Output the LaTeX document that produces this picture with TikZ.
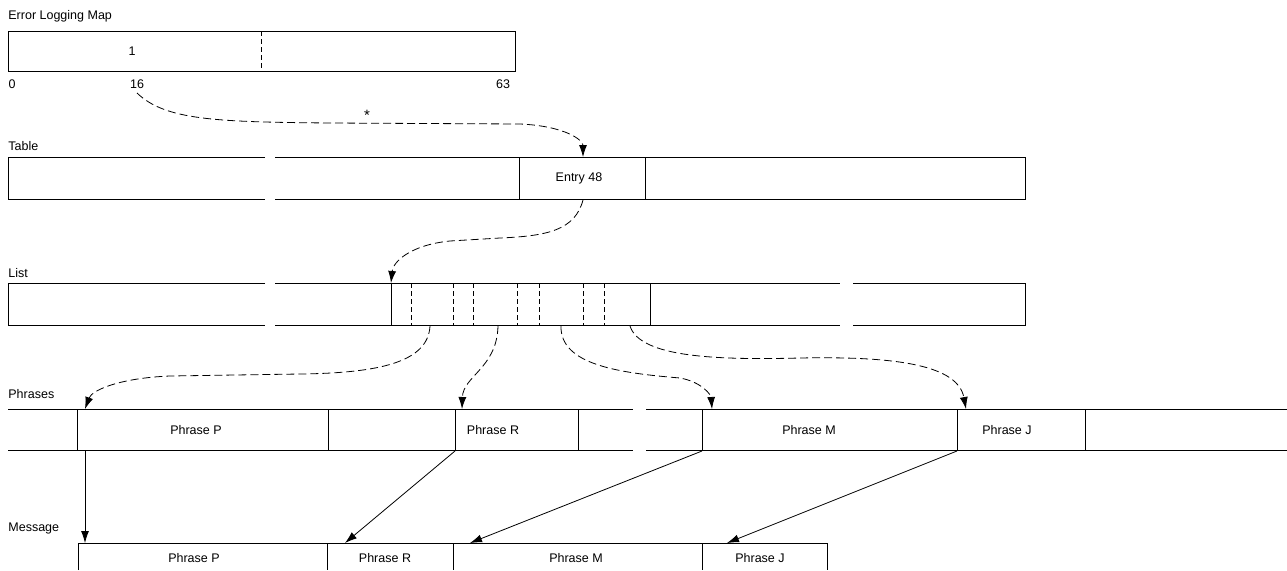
\documentclass[tikz,border=0pt]{standalone}
\usepackage{fontspec}
\setmainfont{Liberation Sans}
\usetikzlibrary{arrows.meta}
\begin{document}
\begin{tikzpicture}[x=1pt,y=-1pt,line width=0.8pt,
  txt/.style={font=\fontsize{12.5}{14}\selectfont,inner sep=0pt},
  lbl/.style={txt,anchor=base west},
  dashline/.style={dash pattern=on 8pt off 4pt},
  vdash/.style={dash pattern=on 5pt off 3pt},
  arrowed/.style={-{Latex[length=12pt,width=8pt]}}]
\useasboundingbox (0,0) rectangle (1287,570);

% ---------- Error Logging Map ----------
\node[lbl] (lelm) at (8,19) {Error Logging Map};
\draw (8,31) rectangle (515,71);
\draw[vdash] (261,31) -- (261,71);
\node[txt] (one) at (132,51) {1};
\node[txt,anchor=base] (n0) at (12,88) {0};
\node[txt,anchor=base] (n16) at (137,88) {16};
\node[txt,anchor=base] (n63) at (503,88) {63};

% ---------- Table ----------
\node[lbl] (ltab) at (8,150) {Table};
\draw (265,157) -- (8,157) -- (8,199) -- (265,199);
\draw (275,157) -- (1025,157) -- (1025,199) -- (275,199);
\draw (519,157) -- (519,199);
\draw (645,157) -- (645,199);
\node[txt] (entry) at (579,178) {Entry 48};

% ---------- List ----------
\node[lbl] (llist) at (8,277) {List};
\draw (265,283) -- (8,283) -- (8,325) -- (265,325);
\draw (275,283) -- (840,283);
\draw (275,325) -- (840,325);
\draw (853,283) -- (1025,283) -- (1025,325) -- (853,325);
\draw (391,283) -- (391,325);
\draw (650,283) -- (650,325);
\foreach \x in {411,453,473,517,539,583,604}
  \draw[vdash] (\x,283) -- (\x,325);

% ---------- Phrases ----------
\node[lbl] (lphr) at (8,398) {Phrases};
\draw (8,409) -- (633,409);
\draw (8,450) -- (633,450);
\draw (646,409) -- (1287,409);
\draw (646,450) -- (1287,450);
\foreach \x in {77,328,455,578,702,957,1085}
  \draw (\x,409) -- (\x,450);
\node[txt] (pp) at (196,430) {Phrase P};
\node[txt] (pr) at (493,430) {Phrase R};
\node[txt] (pm) at (809,430) {Phrase M};
\node[txt] (pj) at (1007,430) {Phrase J};

% ---------- Message ----------
\node[lbl] (lmsg) at (8,531) {Message};
\draw (78,570) -- (78,543) -- (827,543) -- (827,570);
\foreach \x in {327,453,702}
  \draw (\x,543) -- (\x,570);
\node[txt] (mp) at (194,558) {Phrase P};
\node[txt] (mr) at (385,558) {Phrase R};
\node[txt] (mm) at (576,558) {Phrase M};
\node[txt] (mj) at (760,558) {Phrase J};

% ---------- connector end points ----------
\coordinate (s16) at (137,93);
\coordinate (tEntry) at (583,157);
\coordinate (sEntry) at (583,200);
\coordinate (tList) at (391,283);
\coordinate (sA) at (430,326);
\coordinate (sB) at (498,326);
\coordinate (sC) at (561,326);
\coordinate (sD) at (630,326);
\coordinate (tP) at (85,409);
\coordinate (tR) at (462,409);
\coordinate (tM) at (712,409);
\coordinate (tJ) at (966,409);
\coordinate (bP) at (85,451);
\coordinate (bR) at (455,451);
\coordinate (bM) at (702,451);
\coordinate (bJ) at (957,451);
\coordinate (mP) at (85,543);
\coordinate (mR) at (345,543);
\coordinate (mM) at (470,543);
\coordinate (mJ) at (727,543);

% ---------- dashed connectors ----------
\draw[dashline,arrowed] (s16) .. controls (165,120) and (215,122) .. (330,123)
   -- (520,124) .. controls (565,126) and (583,140) .. (tEntry);
\node[font=\fontsize{15}{16}\selectfont,inner sep=0pt] (star) at (367,115) {*};
\draw[dashline,arrowed] (sEntry) .. controls (575,230) and (548,236) .. (500,238)
   -- (450,241) .. controls (410,245) and (393,262) .. (tList);
\draw[dashline,arrowed] (sA) .. controls (428,362) and (380,373) .. (300,374)
   -- (170,376) .. controls (120,378) and (92,390) .. (tP);
\draw[dashline,arrowed] (sB) .. controls (497,368) and (463,376) .. (tR);
\draw[dashline,arrowed] (sC) .. controls (560,365) and (620,373) .. (680,378)
   .. controls (702,382) and (711,395) .. (tM);
\draw[dashline,arrowed] (sD) .. controls (640,358) and (720,360) .. (800,358)
   .. controls (900,356) and (958,366) .. (tJ);

% ---------- solid connectors ----------
\draw[arrowed] (bP) -- (mP);
\draw[arrowed] (bR) -- (mR);
\draw[arrowed] (bM) -- (mM);
\draw[arrowed] (bJ) -- (mJ);
\end{tikzpicture}
\end{document}
